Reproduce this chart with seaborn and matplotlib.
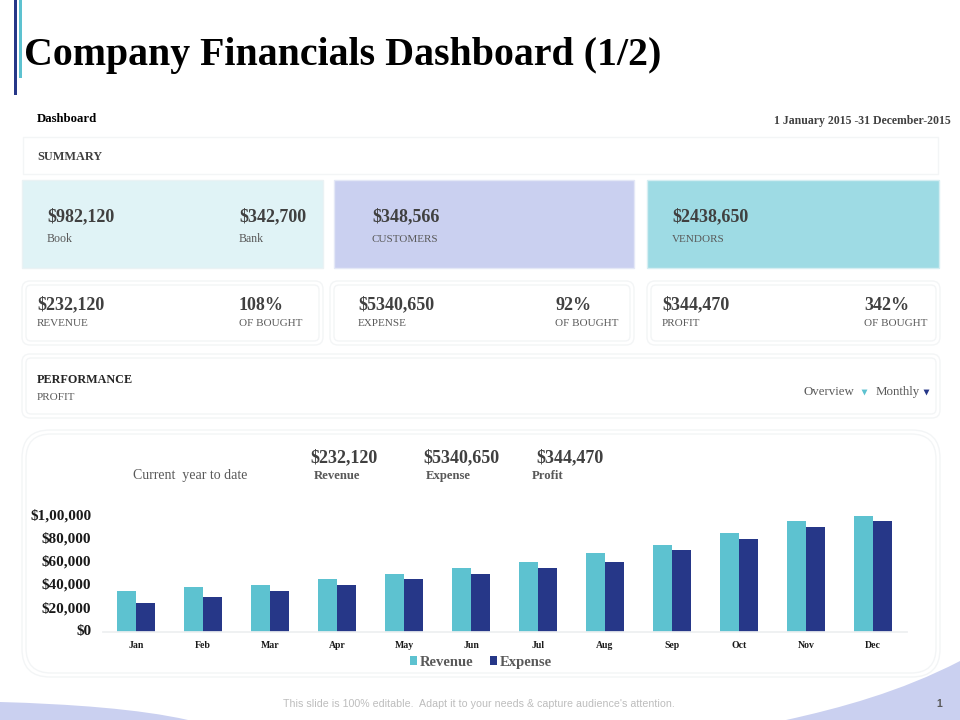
import matplotlib
matplotlib.use("Agg")
import matplotlib.pyplot as plt
import pandas as pd
import seaborn as sns
from matplotlib.patches import FancyBboxPatch, PathPatch, Rectangle
from matplotlib.path import Path
from matplotlib.transforms import ScaledTranslation

months = ["Jan", "Feb", "Mar", "Apr", "May", "Jun", "Jul", "Aug", "Sep", "Oct", "Nov", "Dec"]
revenue = [35000, 38000, 40000, 45000, 50000, 55000, 60000, 67500, 75000, 85000, 95000, 100000]
expense = [25000, 30000, 35000, 40000, 45000, 50000, 55000, 60000, 70000, 80000, 90000, 95000]
y_ticks = [0, 20000, 40000, 60000, 80000, 100000]
y_tick_labels = ["$0", "$20,000", "$40,000", "$60,000", "$80,000", "$1,00,000"]

TEAL = "#5DC2D0"
NAVY = "#263788"
PERI = "#CAD0F0"
DARK = "#404040"
GREY = "#595959"
LINE = "#F3F5F6"
BIG = 13
SMALL = 8

sns.set_theme(style="white")
plt.rcParams["font.family"] = ["Liberation Serif", "DejaVu Serif"]

fig = plt.figure(figsize=(9.6, 7.2), dpi=100, facecolor="white")

# whole slide in pixel coordinates for the boxes and texts
bg = fig.add_axes([0, 0, 1, 1])
bg.set_xlim(0, 960)
bg.set_ylim(720, 0)
bg.axis("off")


def box(x0, y0, x1, y1, face="white", edge=LINE, r=0, lw=1.0):
    if r:
        style = f"round,pad=0,rounding_size={r}"
        bg.add_patch(FancyBboxPatch((x0, y0), x1 - x0, y1 - y0, boxstyle=style,
                                    fc=face, ec=edge, lw=lw))
    else:
        bg.add_patch(Rectangle((x0, y0), x1 - x0, y1 - y0, fc=face, ec=edge, lw=lw))


def double_box(x0, y0, x1, y1, r):
    box(x0, y0, x1, y1, r=r)
    box(x0 + 4, y0 + 4, x1 - 4, y1 - 4, r=max(r - 3, 1))


def txt(x, y, s, size, color=DARK, weight="normal", ha="left", **kw):
    bg.text(x, y + 1, s, fontsize=size, color=color, fontweight=weight, ha=ha, va="center", **kw)


# decoration
bg.add_patch(Rectangle((14, 0), 3, 95, fc=NAVY, ec="none"))
bg.add_patch(Rectangle((19, 0), 3, 78, fc=TEAL, ec="none"))
bg.add_patch(PathPatch(Path([(0, 702), (70, 704), (140, 709), (188, 720), (0, 720), (0, 702)],
                            [Path.MOVETO, Path.CURVE4, Path.CURVE4, Path.CURVE4, Path.LINETO, Path.CLOSEPOLY]),
                       fc=PERI, ec="none"))
bg.add_patch(PathPatch(Path([(960, 661), (900, 692), (840, 708), (786, 720), (960, 720), (960, 661)],
                            [Path.MOVETO, Path.CURVE4, Path.CURVE4, Path.CURVE4, Path.LINETO, Path.CLOSEPOLY]),
                       fc=PERI, ec="none"))

# header
txt(24, 54, "Company Financials Dashboard (1/2)", 28.7, color="black", weight="bold")
txt(37, 118, "Dashboard", 9.2, color="black", weight="bold")
txt(951, 120, "1 January 2015 -31 December-2015", 8.5, weight="bold", ha="right")

# summary
box(23, 137, 938, 174)
txt(37, 156, "SUMMARY", 8.8, weight="bold")
box(22, 180, 323, 268, face="#E0F3F6", edge="#EAF2F4")
box(334, 180, 634, 268, face=PERI, edge="#E4E8F6")
box(647, 180, 939, 268, face="#9EDBE4", edge="#D5EEF2")
txt(47, 216, "$982,120", BIG, weight="bold")
txt(47, 238, "Book", 8.6, color=GREY)
txt(239, 216, "$342,700", BIG, weight="bold")
txt(239, 238, "Bank", 8.6, color=GREY)
txt(372, 216, "$348,566", BIG, weight="bold")
txt(372, 238, "CUSTOMERS", SMALL, color=GREY)
txt(672, 216, "$2438,650", BIG, weight="bold")
txt(672, 238, "VENDORS", SMALL, color=GREY)

# kpi row
double_box(22, 281, 323, 345, 8)
double_box(330, 281, 634, 345, 8)
double_box(647, 281, 940, 345, 8)
txt(37, 304, "$232,120", BIG, weight="bold")
txt(37, 323, "REVENUE", SMALL, color=GREY)
txt(239, 304, "108%", BIG, weight="bold")
txt(239, 323, "OF BOUGHT", SMALL, color=GREY)
txt(358, 304, "$5340,650", BIG, weight="bold")
txt(358, 323, "EXPENSE", SMALL, color=GREY)
txt(555, 304, "92%", BIG, weight="bold")
txt(555, 323, "OF BOUGHT", SMALL, color=GREY)
txt(662, 304, "$344,470", BIG, weight="bold")
txt(662, 323, "PROFIT", SMALL, color=GREY)
txt(864, 304, "342%", BIG, weight="bold")
txt(864, 323, "OF BOUGHT", SMALL, color=GREY)

# performance
double_box(22, 354, 940, 418, 8)
txt(37, 379, "PERFORMANCE", 8.7, color="#262626", weight="bold")
txt(37, 397, "PROFIT", 8, color=GREY)
txt(803, 391, "Overview", 9.3, color=GREY)
txt(876, 391, "Monthly", 9.3, color=GREY)
bg.scatter([864], [392], marker="v", s=18, color=TEAL, lw=0)
bg.scatter([926], [392], marker="v", s=18, color=NAVY, lw=0)

# chart panel
double_box(22, 430, 940, 677, 28)
txt(133, 474, "Current  year to date", 10, color=GREY)
txt(310, 457, "$232,120", BIG, weight="bold")
txt(314, 475, "Revenue", 9.2, color=GREY, weight="bold")
txt(423, 457, "$5340,650", BIG, weight="bold")
txt(426, 475, "Expense", 9.2, color=GREY, weight="bold")
txt(536, 457, "$344,470", BIG, weight="bold")
txt(532, 475, "Profit", 9.2, color=GREY, weight="bold")

# footer
txt(479, 703, "This slide is 100% editable.  Adapt it to your needs & capture audience's attention.",
    7.7, color="#BDBDBD", ha="center", family="Liberation Sans")
txt(939, 703, "1", 7.5, color=GREY, weight="bold", ha="center", family="Liberation Sans")

# bar chart, placed so the baseline sits at y=631 and the top tick at y=515
df = pd.DataFrame({"month": months * 2,
                   "value": revenue + expense,
                   "series": ["Revenue"] * 12 + ["Expense"] * 12})
ax = fig.add_axes([102.5 / 960, (720 - 631.5) / 720, 804 / 960, 116 / 720])
ax.patch.set_alpha(0)
sns.barplot(data=df, x="month", y="value", hue="series", order=months,
            hue_order=["Revenue", "Expense"], palette=[TEAL, NAVY],
            width=0.57, gap=0, saturation=1, linewidth=0, ax=ax)
ax.set_xlim(-0.5, 11.5)
ax.set_ylim(0, 100000)
ax.set_yticks(y_ticks, y_tick_labels)
ax.set_xlabel("")
ax.set_ylabel("")
for b in ax.patches:
    b.set_clip_on(False)
sns.despine(ax=ax, left=True)
ax.spines["bottom"].set_color("#EDEFF1")
ax.tick_params(axis="x", length=0, pad=7, labelsize=7, labelcolor="#1A1A1A")
ax.tick_params(axis="y", length=0, pad=8, labelsize=11, labelcolor="#1A1A1A")
for t in ax.get_xticklabels() + ax.get_yticklabels():
    t.set_fontweight("bold")
# the y labels sit a touch higher than their ticks in the slide
for t in ax.get_yticklabels():
    t.set_transform(t.get_transform() + ScaledTranslation(0, 1 / 72, fig.dpi_scale_trans))

sns.move_legend(ax, "center", bbox_to_anchor=(0.4708, -0.265), ncol=2, frameon=False, title=None,
                handlelength=0.5, handleheight=0.5, handletextpad=0.2,
                columnspacing=1.1, labelcolor=GREY, prop={"weight": "bold", "size": 10.5})

fig.savefig("out.png", dpi=100)
